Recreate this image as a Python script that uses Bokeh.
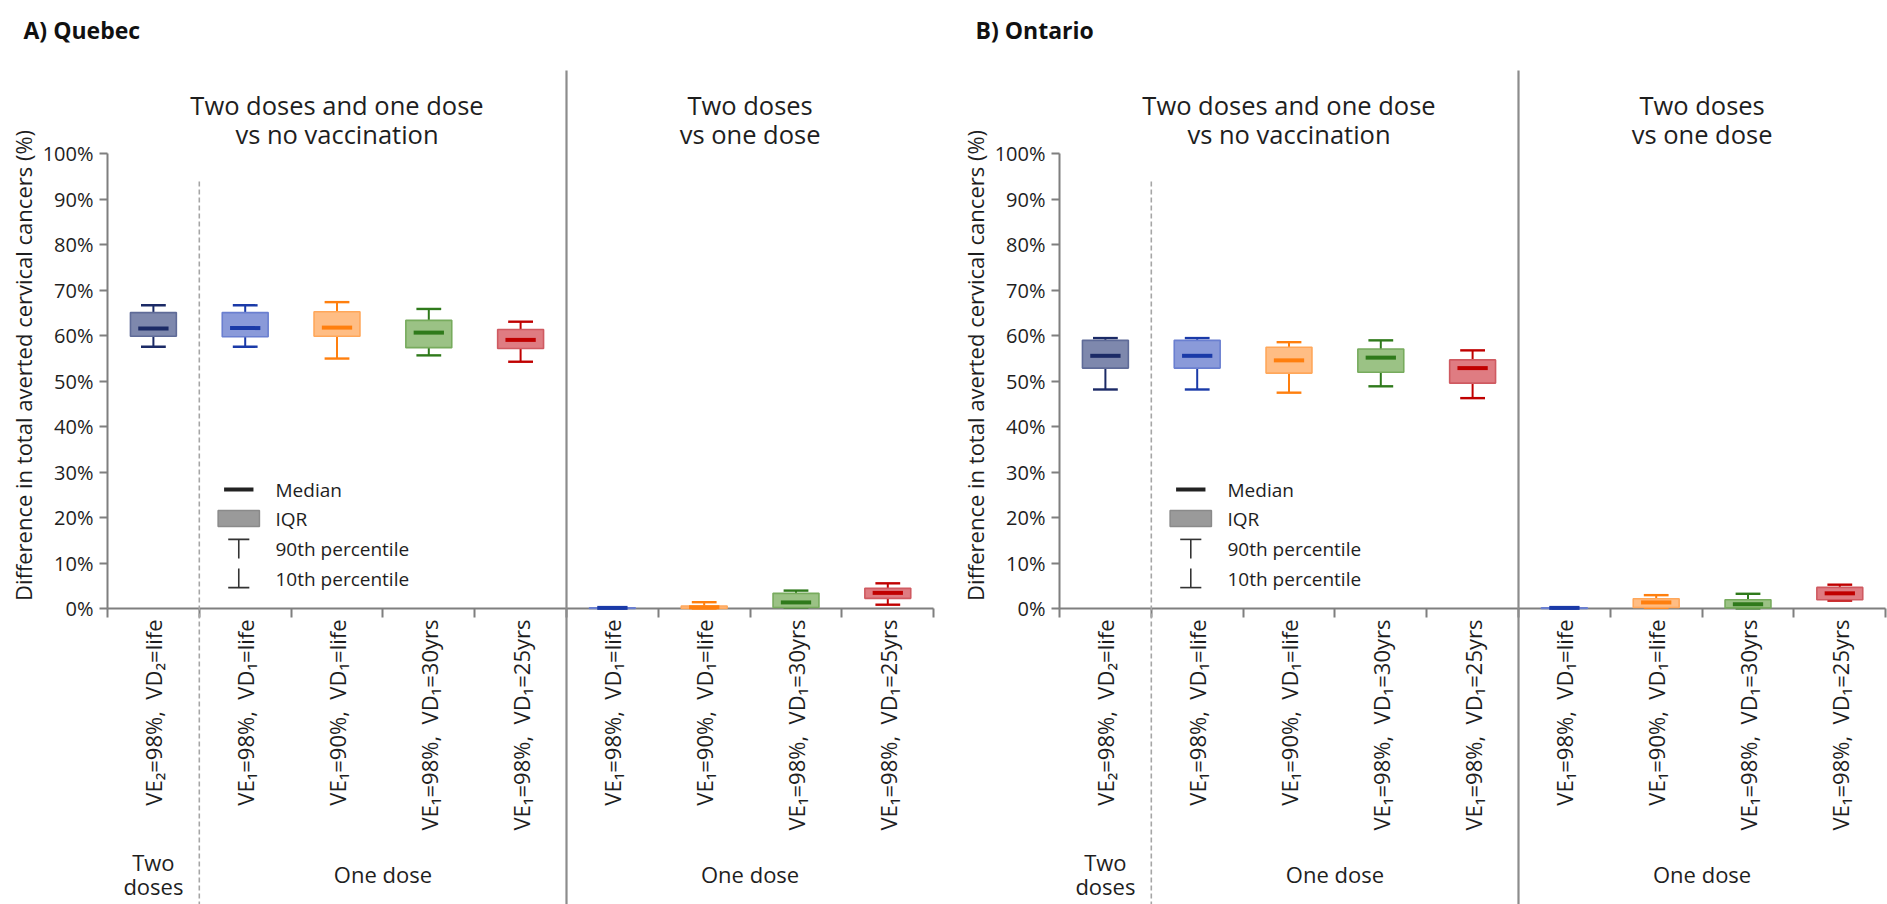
import math
from bokeh.plotting import figure
from bokeh.layouts import row
from bokeh.models import (Range1d, FixedTicker, PrintfTickFormatter, LinearAxis,
                          ColumnDataSource, CustomJSTickFormatter)
from bokeh.core.properties import value
from bokeh.embed import file_html
from bokeh.resources import INLINE

# ---------------- data ----------------
SP = ",\u00a0 "
categories = [
    "VE\u2082=98%" + SP + "VD\u2082=life",
    "VE\u2081=98%" + SP + "VD\u2081=life",
    "VE\u2081=90%" + SP + "VD\u2081=life",
    "VE\u2081=98%" + SP + "VD\u2081=30yrs",
    "VE\u2081=98%" + SP + "VD\u2081=25yrs",
    "VE\u2081=98%" + SP + "VD\u2081=life",
    "VE\u2081=90%" + SP + "VD\u2081=life",
    "VE\u2081=98%" + SP + "VD\u2081=30yrs",
    "VE\u2081=98%" + SP + "VD\u2081=25yrs",
]
comparisons = ["Two doses and one dose\nvs no vaccination", "Two doses\nvs one dose"]
comparison_sizes = [5, 4]
group_labels = ["Two\ndoses", "One dose", "One dose"]
group_sizes = [1, 4, 4]
panel_labels = ["A) Quebec", "B) Ontario"]
y_ticks = [0, 10, 20, 30, 40, 50, 60, 70, 80, 90, 100]
y_label = "Difference in total averted cervical cancers (%)"
legend_labels = ["Median", "IQR", "90th percentile", "10th percentile"]

# Quebec
qc_p10 = [57.6, 57.6, 55.0, 55.7, 54.3, 0.1, 0.05, 0.3, 0.9]
qc_q1  = [59.9, 59.8, 59.9, 57.4, 57.2, 0.1, 0.1, 0.3, 2.3]
qc_med = [61.6, 61.7, 61.8, 60.7, 59.1, 0.2, 0.35, 1.4, 3.5]
qc_q3  = [65.1, 65.1, 65.3, 63.4, 61.4, 0.2, 0.6, 3.4, 4.5]
qc_p90 = [66.7, 66.7, 67.4, 65.9, 63.1, 0.3, 1.45, 4.0, 5.6]

# Ontario
on_p10 = [48.2, 48.2, 47.5, 48.9, 46.3, 0.1, 0.2, 0.1, 1.8]
on_q1  = [52.9, 52.9, 51.8, 52.0, 49.6, 0.1, 0.3, 0.2, 2.0]
on_med = [55.6, 55.6, 54.6, 55.2, 52.9, 0.2, 1.4, 1.0, 3.4]
on_q3  = [59.0, 59.0, 57.5, 57.1, 54.7, 0.2, 2.2, 2.0, 4.7]
on_p90 = [59.5, 59.5, 58.6, 59.0, 56.8, 0.3, 3.0, 3.3, 5.3]

# ---------------- styles ----------------
series_fill = ["#7e88ad", "#8a9ad9", "#ffbd84", "#9bc285", "#df7c82",
               "#8a9ad9", "#ffbd84", "#9bc285", "#df7c82"]
series_line = ["#5f6b98", "#6a7fd0", "#ffa75a", "#77ab5d", "#cf5a61",
               "#6a7fd0", "#ffa75a", "#77ab5d", "#cf5a61"]
series_dark = ["#1b2a66", "#1a3aa8", "#ff7f0e", "#2f7a1b", "#c00000",
               "#1a3aa8", "#ff7f0e", "#2f7a1b", "#c00000"]

FONT = value("Open Sans")
TXT = "#1e1e1e"
AX = "#7f7f7f"
FIG_H = 904
PXP = 4.55            # pixels per percent
ZERO_PX = 608.3       # pixel row of 0%
AXIS_PX = 107         # pixel column of the y axis inside each panel
CAT_PX = 91.8         # pixels per category
Y_START = -(FIG_H - ZERO_PX) / PXP
Y_END = ZERO_PX / PXP


def ydata(px):
    return (ZERO_PX - px) / PXP


def xdata(px):
    return (px - AXIS_PX) / CAT_PX


def lines_text(p, xs, texts, center_px, step_px, size):
    """Draw multi-line strings as separate lines centred on center_px."""
    tx, ty, tt = [], [], []
    for x, t in zip(xs, texts):
        parts = t.split("\n")
        k = len(parts)
        for j, part in enumerate(parts):
            tx.append(x)
            ty.append(ydata(center_px + (j - (k - 1) / 2) * step_px))
            tt.append(part)
    p.text(x=tx, y=ty, text=tt, text_align="center", text_baseline="middle",
           text_font=FONT, text_font_size=size, text_color=TXT)


def make_panel(label, p10, q1, med, q3, p90, fig_w):
    n = len(categories)
    p = figure(width=fig_w, height=FIG_H,
               min_border_left=0, min_border_right=0,
               min_border_top=0, min_border_bottom=0,
               x_range=Range1d(xdata(0), xdata(fig_w)), y_range=Range1d(Y_START, Y_END),
               output_backend="svg", toolbar_location=None, tools="",
               x_axis_location=None, y_axis_location=None, title=None)
    p.grid.visible = False
    p.outline_line_color = None
    p.background_fill_color = "white"
    p.border_fill_color = "white"

    # y axis, placed at x = 0 of the data space
    ay = LinearAxis(fixed_location=0, bounds=(0, 100),
                    ticker=FixedTicker(ticks=y_ticks),
                    formatter=PrintfTickFormatter(format="%d%%"))
    ay.axis_line_color = AX
    ay.axis_line_width = 2
    ay.major_tick_line_color = AX
    ay.major_tick_line_width = 2
    ay.major_tick_out = 8
    ay.major_tick_in = 0
    ay.minor_tick_line_color = None
    ay.major_label_standoff = 6
    ay.major_label_text_font = "Open Sans"
    ay.major_label_text_font_size = "20px"
    ay.major_label_text_color = TXT
    p.add_layout(ay, "left")

    # x axis (baseline with ticks at category boundaries), placed at y = 0
    ax = LinearAxis(fixed_location=0, bounds=(0, n),
                    ticker=FixedTicker(ticks=list(range(n + 1))),
                    formatter=CustomJSTickFormatter(code="return ''"))
    ax.axis_line_color = AX
    ax.axis_line_width = 2
    ax.major_tick_line_color = AX
    ax.major_tick_line_width = 2
    ax.major_tick_out = 9
    ax.major_tick_in = 0
    ax.minor_tick_line_color = None
    ax.level = "underlay"
    p.add_layout(ax, "below")

    xs = [i + 0.5 for i in range(n)]

    # section separators
    solid_x = []
    acc = 0
    for s in comparison_sizes[:-1]:
        acc += s
        solid_x.append(acc)
    p.segment(x0=solid_x, y0=[ydata(70)] * len(solid_x), x1=solid_x,
              y1=[Y_START] * len(solid_x), line_color="#8c8c8c", line_width=2.2)
    dashed_x = [group_sizes[0]]
    p.segment(x0=dashed_x, y0=[ydata(181)], x1=dashed_x, y1=[Y_START],
              line_color="#a6a6a6", line_width=1.6, line_dash="5 3")

    # comparison titles
    tx = []
    acc = 0
    for s in comparison_sizes:
        tx.append(acc + s / 2)
        acc += s
    lines_text(p, tx, comparisons, 118.5, 29, "25.5px")

    # group labels
    gx = []
    acc = 0
    for s in group_sizes:
        gx.append(acc + s / 2)
        acc += s
    lines_text(p, gx, group_labels, 873, 24, "22px")

    # category labels (rotated)
    p.text(x=xs, y=[ydata(619)] * n, text=categories, angle=math.pi / 2,
           text_align="right", text_baseline="middle", text_font=FONT,
           text_font_size="22px", text_color=TXT)

    # boxes
    src = ColumnDataSource(dict(
        x=xs, left=[x - 0.25 for x in xs], right=[x + 0.25 for x in xs],
        capl=[x - 0.135 for x in xs], capr=[x + 0.135 for x in xs],
        medl=[x - 0.165 for x in xs], medr=[x + 0.165 for x in xs],
        p10=p10, q1=q1, med=med, q3=q3, p90=p90,
        fill=series_fill, line=series_line, dark=series_dark))
    p.segment(x0="x", y0="q3", x1="x", y1="p90", line_color="dark", line_width=2, source=src)
    p.segment(x0="x", y0="q1", x1="x", y1="p10", line_color="dark", line_width=2, source=src)
    p.segment(x0="capl", y0="p90", x1="capr", y1="p90", line_color="dark", line_width=2.4, source=src)
    p.segment(x0="capl", y0="p10", x1="capr", y1="p10", line_color="dark", line_width=2.4, source=src)
    p.quad(left="left", right="right", bottom="q1", top="q3", fill_color="fill",
           line_color="line", line_width=1.6, source=src)
    p.segment(x0="medl", y0="med", x1="medr", y1="med", line_color="dark", line_width=4, source=src)

    # legend (custom)
    ic = 1.43
    ly = [ydata(489), ydata(518), ydata(548), ydata(578)]
    p.segment(x0=[ic - 0.16], y0=[ly[0]], x1=[ic + 0.16], y1=[ly[0]], line_color="#222222", line_width=4)
    p.quad(left=[ic - 0.225], right=[ic + 0.225], bottom=[ly[1] - 1.75], top=[ly[1] + 1.75],
           fill_color="#9a9a9a", line_color="#8a8a8a", line_width=1.5)
    p.segment(x0=[ic - 0.115, ic], y0=[ly[2] + 2.0, ly[2] + 2.0], x1=[ic + 0.115, ic],
              y1=[ly[2] + 2.0, ly[2] - 2.2], line_color="#333333", line_width=1.6)
    p.segment(x0=[ic - 0.115, ic], y0=[ly[3] - 2.0, ly[3] - 2.0], x1=[ic + 0.115, ic],
              y1=[ly[3] - 2.0, ly[3] + 2.2], line_color="#333333", line_width=1.6)
    p.text(x=[1.83] * 4, y=ly, text=legend_labels, text_align="left", text_baseline="middle",
           text_font=FONT, text_font_size="19px", text_color=TXT)

    # y axis title and panel label
    p.text(x=[xdata(22)], y=[ydata(365)], text=[y_label], angle=math.pi / 2,
           text_align="center", text_baseline="middle", text_font=FONT,
           text_font_size="22px", text_color=TXT)
    p.text(x=[xdata(23)], y=[ydata(29)], text=[label], text_align="left",
           text_baseline="middle", text_font=FONT, text_font_style="bold",
           text_font_size="23px", text_color="#111111")
    return p


left = make_panel(panel_labels[0], qc_p10, qc_q1, qc_med, qc_q3, qc_p90, 952)
right = make_panel(panel_labels[1], on_p10, on_q1, on_med, on_q3, on_p90, 935)
layout = row(left, right)

open("out.html", "w").write(file_html(layout, INLINE))
